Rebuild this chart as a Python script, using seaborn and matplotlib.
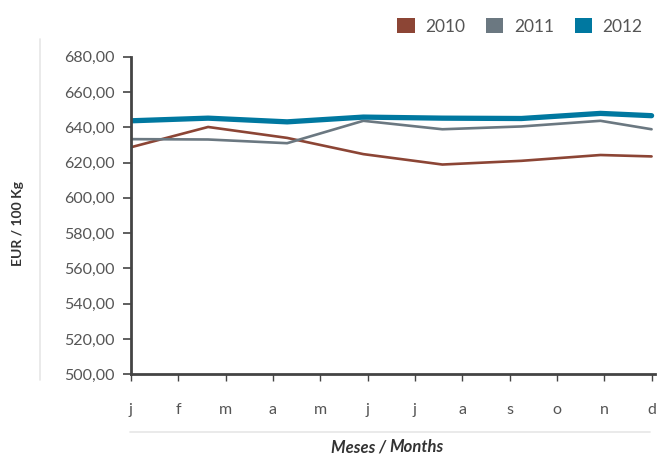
import matplotlib
matplotlib.use("Agg")
import matplotlib.pyplot as plt
from matplotlib.patches import Patch
from matplotlib.lines import Line2D
import numpy as np
import pandas as pd
import seaborn as sns

# month labels on the x axis
months = ["j", "f", "m", "a", "m", "j", "j", "a", "s", "o", "n", "d"]

# positions of the observations, in months from the start of the year
obs_pos = [0.0, 1.63, 3.30, 4.91, 6.58, 8.25, 9.92, 11.0]

price_2010 = [628.7, 640.2, 634.0, 624.8, 618.9, 621.0, 624.3, 623.5]
price_2011 = [633.3, 633.1, 631.0, 643.7, 638.9, 640.5, 643.7, 638.9]
price_2012 = [643.7, 645.2, 643.1, 645.8, 645.2, 645.0, 647.9, 646.6]

years = ["2010", "2011", "2012"]
colors = {"2010": "#8c4535", "2011": "#6b7881", "2012": "#0078a0"}
widths = {"2010": 1.9, "2011": 1.9, "2012": 3.8}

df = pd.concat([
    pd.DataFrame({"pos": obs_pos, "price": p, "year": y})
    for y, p in zip(years, [price_2010, price_2011, price_2012])
], ignore_index=True)

sns.set_style("white")
plt.rcParams["font.family"] = ["Lato", "DejaVu Sans"]
txt = "#555555"
spine = "#444444"

fig = plt.figure(figsize=(6.58, 4.58), dpi=100)
ax = fig.add_axes([0.199, 0.183, 0.797, 0.693])

for y in years:
    sns.lineplot(data=df[df.year == y], x="pos", y="price", color=colors[y],
                 linewidth=widths[y], ax=ax, legend=False)

ax.set_xlim(0, 11.08)
ax.set_ylim(500, 680)
ax.set_yticks(np.arange(500, 681, 20))
ax.set_yticklabels(["{:.2f}".format(v).replace(".", ",") for v in np.arange(500, 681, 20)])
ax.set_xticks(range(12))
ax.set_xticklabels(months)

for s in ["top", "right"]:
    ax.spines[s].set_visible(False)
for s in ["left", "bottom"]:
    ax.spines[s].set_color(spine)
    ax.spines[s].set_linewidth(2)

ax.tick_params(axis="y", direction="out", length=6, width=1.2, color=spine,
               labelsize=11.5, labelcolor=txt, pad=6, left=True)
ax.tick_params(axis="x", direction="out", length=5, width=1.0, color=spine,
               labelsize=11.5, labelcolor=txt, pad=16, bottom=True)

ax.set_xlabel("")
ax.set_ylabel("")
fig.text(0.027, 0.511, "EUR / 100 Kg", rotation=90, ha="center", va="center",
         fontsize=10, fontweight="bold", color="#333333")
fig.text(0.592, 0.006, "Meses / ", ha="right", va="bottom", fontsize=12,
         fontweight="bold", fontstyle="italic", color="#333333")
fig.text(0.592, 0.006, "Months", ha="left", va="bottom", fontsize=12,
         fontweight="bold", fontstyle="italic", color="#333333")

# light separator lines
fig.add_artist(Line2D([0.061, 0.061], [0.17, 0.915], color="#e6e6e6", lw=1.2))
fig.add_artist(Line2D([0.198, 0.988], [0.057, 0.057], color="#e6e6e6", lw=1.2))

handles = [Patch(facecolor=colors[y], edgecolor="none", label=y) for y in years]
leg = fig.legend(handles=handles, loc="upper right", bbox_to_anchor=(1.0, 0.995),
                 ncol=3, frameon=False, fontsize=12.5, handlelength=1.0,
                 handleheight=1.0, handletextpad=0.6, columnspacing=1.2)
for t in leg.get_texts():
    t.set_color(txt)

fig.savefig("out.png", dpi=100)
